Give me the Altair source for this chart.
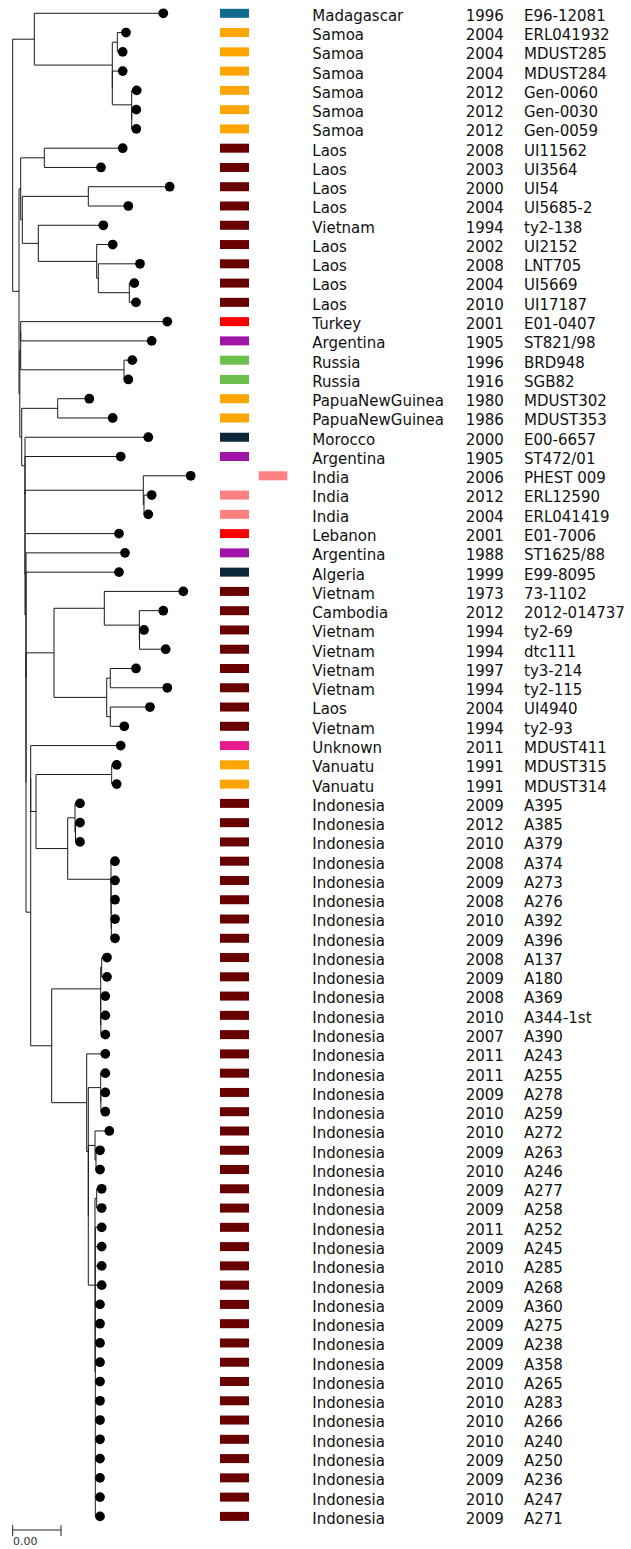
import altair as alt
import pandas as pd

# ---------------- leaf data (top to bottom) ----------------
countries = (["Madagascar"] + ["Samoa"] * 6 +
             ["Laos", "Laos", "Laos", "Laos", "Vietnam", "Laos", "Laos", "Laos", "Laos",
              "Turkey", "Argentina", "Russia", "Russia", "PapuaNewGuinea", "PapuaNewGuinea",
              "Morocco", "Argentina", "India", "India", "India", "Lebanon", "Argentina", "Algeria",
              "Vietnam", "Cambodia", "Vietnam", "Vietnam", "Vietnam", "Vietnam", "Laos", "Vietnam",
              "Unknown", "Vanuatu", "Vanuatu"] + ["Indonesia"] * 38)

years = [1996, 2004, 2004, 2004, 2012, 2012, 2012,
         2008, 2003, 2000, 2004, 1994, 2002, 2008, 2004, 2010,
         2001, 1905, 1996, 1916, 1980, 1986,
         2000, 1905, 2006, 2012, 2004, 2001, 1988, 1999,
         1973, 2012, 1994, 1994, 1997, 1994, 2004, 1994,
         2011, 1991, 1991,
         2009, 2012, 2010, 2008, 2009, 2008, 2010, 2009, 2008, 2009, 2008, 2010, 2007,
         2011, 2011, 2009, 2010, 2010, 2009, 2010, 2009, 2009, 2011, 2009, 2010, 2009,
         2009, 2009, 2009, 2009, 2010, 2010, 2010, 2010, 2009, 2009, 2010, 2009]

strains = ["E96-12081", "ERL041932", "MDUST285", "MDUST284", "Gen-0060", "Gen-0030", "Gen-0059",
           "UI11562", "UI3564", "UI54", "UI5685-2", "ty2-138", "UI2152", "LNT705", "UI5669", "UI17187",
           "E01-0407", "ST821/98", "BRD948", "SGB82", "MDUST302", "MDUST353",
           "E00-6657", "ST472/01", "PHEST 009", "ERL12590", "ERL041419", "E01-7006", "ST1625/88", "E99-8095",
           "73-1102", "2012-014737", "ty2-69", "dtc111", "ty3-214", "ty2-115", "UI4940", "ty2-93",
           "MDUST411", "MDUST315", "MDUST314",
           "A395", "A385", "A379", "A374", "A273", "A276", "A392", "A396", "A137", "A180", "A369",
           "A344-1st", "A390", "A243", "A255", "A278", "A259", "A272", "A263", "A246", "A277", "A258",
           "A252", "A245", "A285", "A268", "A360", "A275", "A238", "A358", "A265", "A283", "A266",
           "A240", "A250", "A236", "A247", "A271"]

# distance from root to each tip (arbitrary units)
tip_depth = [150.6, 113.3, 110.0, 110.0, 124.0, 123.6, 123.6,
             110.0, 88.3, 157.0, 115.6, 90.6, 100.0, 127.3, 121.6, 123.3,
             154.6, 139.0, 119.6, 115.6, 76.6, 100.0,
             135.6, 108.0, 178.0, 139.0, 135.6, 106.3, 112.3, 106.3,
             170.6, 150.6, 131.3, 153.0, 123.3, 154.6, 137.3, 111.6,
             108.0, 104.0, 104.0,
             67.3, 67.3, 67.3, 102.3, 102.3, 102.3, 102.3, 102.3,
             94.3, 94.3, 92.6, 92.6, 92.6, 92.6, 92.6, 92.6, 92.6, 96.6,
             87.3, 87.3, 89.0, 89.0, 89.0, 89.0, 89.0, 89.0,
             87.3, 87.3, 87.3, 87.3, 87.3, 87.3, 87.3, 87.3, 87.3, 87.3, 87.3, 87.3]

# ---------------- tree topology: (node depth, child, child, ...) ; ints are leaves ----------------
clade_samoa = (21.6, 0, (99.6, (104.6, 1, 2), (99.6, 3, (119.0, 4, (119.0, 5, 6)))))
clade_laos = (8.0, (31.6, 7, 8),
              (9.6, (75.6, 9, 10), (25.6, 11, (84.0, 12, (85.6, 13, (116.6, 14, 15))))))
clade_viet = (41.3, (91.6, 30, (126.6, 31, (126.8, 32, 33))),
              (94.0, (97.6, 34, 35), (97.6, 36, 37)))
clade_indo_j1 = (88.0, (89.0, 49, 50), (88.0, 51, (88.2, 52, 53)))
clade_indo_j2 = (74.0, 54,
                 (75.6, (88.0, 55, (88.2, 56, 57)),
                  (75.6, (82.3, 58, (83.3, 59, 60)),
                   (82.3, (84.0, 61, 62), tuple([82.6] + list(range(63, 79)))))))
clade_pacific = (18.0,
                 (18.0, 38, (23.3, (99.0, 39, 40),
                             (55.0, (62.3, 41, (62.8, 42, 43)),
                              (98.3, 44, (98.4, 45, (98.5, 46, (98.6, 47, 48))))))),
                 (39.0, clade_indo_j1, clade_indo_j2))
clade_spine = (7.1,
               (8.0, (8.0, 16, 17), (111.3, 18, 19)),
               (9.0, (45.0, 20, 21),
                (12.3, 22,
                 (12.3, 23,
                  (12.3, (130.6, 24, (131.3, 25, 26)),
                   (12.3, 27,
                    (13.3, 28,
                     (13.3, 29,
                      (13.3, clade_viet, clade_pacific)))))))))
tree = (0.0, clade_samoa, (6.3, clade_laos, clade_spine))

country_colors = {
    "Madagascar": "#0f6a8e", "Samoa": "#ffa500", "Vanuatu": "#ffa500", "PapuaNewGuinea": "#ffa500",
    "Laos": "#680000", "Vietnam": "#680000", "Cambodia": "#680000", "Indonesia": "#680000",
    "Turkey": "#ff0000", "Lebanon": "#ff0000", "Argentina": "#a114a8", "Russia": "#6cbe4d",
    "Morocco": "#0c2739", "Algeria": "#0c2739", "India": "#ff8080", "Unknown": "#e6198c",
}
shifted_bar_strains = ["PHEST 009"]
scale_bar_length = 48.3
scale_bar_label = "0.00"

# ---------------- build tables ----------------
segs = []


def layout(node, parent_depth):
    if isinstance(node, int):
        segs.append(dict(x=parent_depth, x2=tip_depth[node], y=node, y2=node))
        return float(node)
    depth, *children = node
    ys = [layout(c, depth) for c in children]
    y = (ys[0] + ys[-1]) / 2
    segs.append(dict(x=depth, x2=depth, y=ys[0], y2=ys[-1]))
    if parent_depth is not None:
        segs.append(dict(x=parent_depth, x2=depth, y=y, y2=y))
    return y


layout(tree, None)
seg_df = pd.DataFrame(segs)

leaf_df = pd.DataFrame({
    "row": list(range(len(strains))),
    "country": countries,
    "year": [str(v) for v in years],
    "strain": strains,
    "depth": tip_depth,
})
leaf_df["shifted"] = leaf_df["strain"].isin(shifted_bar_strains)

W, H = 631, 1549
xs = alt.Scale(domain=[-12.7, W - 12.7], nice=False, zero=False)
ys = alt.Scale(domain=[-0.690, 79.692], nice=False, zero=False, reverse=True)

branches = alt.Chart(seg_df).mark_rule(color="#1a1a1a", strokeWidth=1).encode(
    x=alt.X("x:Q", scale=xs, axis=None), x2="x2:Q",
    y=alt.Y("y:Q", scale=ys, axis=None), y2="y2:Q")

tips = alt.Chart(leaf_df).mark_circle(size=95, color="black", opacity=1).encode(
    x=alt.X("depth:Q", scale=xs, axis=None),
    y=alt.Y("row:Q", scale=ys, axis=None))

color_scale = alt.Scale(domain=list(country_colors.keys()), range=list(country_colors.values()))

bars = alt.Chart(leaf_df).transform_filter("!datum.shifted").mark_rule(
    strokeWidth=9, strokeCap="butt").encode(
    x=alt.value(220), x2=alt.value(249),
    y=alt.Y("row:Q", scale=ys, axis=None),
    color=alt.Color("country:N", scale=color_scale, legend=None))
bars_shift = alt.Chart(leaf_df).transform_filter("datum.shifted").mark_rule(
    strokeWidth=9, strokeCap="butt").encode(
    x=alt.value(258.7), x2=alt.value(287.3),
    y=alt.Y("row:Q", scale=ys, axis=None),
    color=alt.Color("country:N", scale=color_scale, legend=None))


def text_col(field, xpos):
    return alt.Chart(leaf_df).mark_text(
        align="left", baseline="alphabetic", dy=7.4, font="DejaVu Sans",
        fontSize=15, color="#111").encode(
        x=alt.value(xpos), y=alt.Y("row:Q", scale=ys, axis=None), text=f"{field}:N")


sb_df = pd.DataFrame({"x": [0.0, 0.0, scale_bar_length], "x2": [scale_bar_length, 0.0, scale_bar_length],
                      "kind": ["bar", "tick", "tick"]})
sb_line = alt.Chart(sb_df).transform_filter("datum.kind == 'bar'").mark_rule(
    color="#222", strokeWidth=1).encode(
    x=alt.X("x:Q", scale=xs, axis=None), x2="x2:Q", y=alt.value(1530))
sb_ticks = alt.Chart(sb_df).transform_filter("datum.kind == 'tick'").mark_rule(
    color="#222", strokeWidth=1).encode(
    x=alt.X("x:Q", scale=xs, axis=None), y=alt.value(1525), y2=alt.value(1536))
sb_text = alt.Chart(pd.DataFrame({"label": [scale_bar_label]})).mark_text(
    align="left", baseline="alphabetic", font="DejaVu Sans", fontSize=11, color="#333").encode(
    x=alt.value(13), y=alt.value(1545), text="label:N")

chart = alt.layer(
    branches, tips, bars, bars_shift,
    text_col("country", 312.3), text_col("year", 465.7), text_col("strain", 524),
    sb_line, sb_ticks, sb_text,
).properties(width=W, height=H, autosize=alt.AutoSizeParams(type="none"), padding=0,
             background="white").configure_view(stroke=None)

chart.save("out.html", embed_options={"renderer": "svg", "actions": False})
